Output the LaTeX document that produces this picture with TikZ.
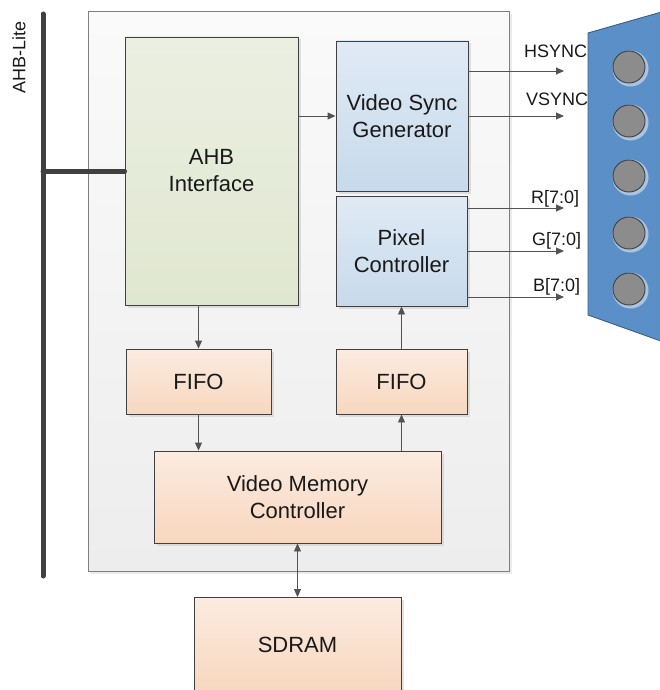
\documentclass[tikz,border=0pt]{standalone}
\usepackage{fontspec}
\setmainfont{Liberation Sans}
\usetikzlibrary{arrows.meta,shadows}

\definecolor{edge}{HTML}{404040}
\definecolor{frameEdge}{HTML}{7F7F7F}
\definecolor{outerTop}{HTML}{FAFAFA}
\definecolor{outerBot}{HTML}{EDEDED}
\definecolor{greenTop}{HTML}{EBEFE2}
\definecolor{greenBot}{HTML}{E0E7D0}
\definecolor{blueTop}{HTML}{E0EAF5}
\definecolor{blueBot}{HTML}{C7DAEB}
\definecolor{peachTop}{HTML}{FBEBE0}
\definecolor{peachBot}{HTML}{F8D7BF}
\definecolor{connFill}{HTML}{5B8FC7}
\definecolor{connEdge}{HTML}{3C5F85}
\definecolor{pinFill}{HTML}{8C8C8C}
\definecolor{pinRing}{HTML}{A9C4E3}

\tikzset{
  blk/.style={draw=edge, line width=0.9pt, align=center, inner sep=0pt,
    font=\fontsize{22}{27}\selectfont, text=black!90,
    drop shadow={shadow xshift=2.5pt, shadow yshift=-2.5pt, fill=black!30, opacity=0.35}},
  greenblk/.style={blk, top color=greenTop, bottom color=greenBot},
  blueblk/.style={blk, top color=blueTop, bottom color=blueBot},
  peachblk/.style={blk, top color=peachTop, bottom color=peachBot},
  link/.style={draw=edge!90, line width=0.9pt},
  tip/.style={-{Triangle[length=8pt,width=7pt]}},
  sig/.style={font=\fontsize{18}{18}\selectfont, inner sep=0pt, text=black!90},
  pin/.style={circle, draw=edge, line width=0.9pt, fill=pinFill, minimum size=32pt, inner sep=0pt}
}

\begin{document}
\begin{tikzpicture}[x=1pt, y=-1pt]
  \useasboundingbox (0,0) rectangle (660,690);

  % enclosing controller block
  \node[draw=frameEdge, line width=1pt, top color=outerTop, bottom color=outerBot,
        minimum width=421pt, minimum height=559pt, inner sep=0pt,
        drop shadow={shadow xshift=2.5pt, shadow yshift=-2.5pt, fill=black!20, opacity=0.4}]
        (frame) at (298.5,291.5) {};

  % AHB-Lite bus
  \coordinate (busTop) at (43,14);
  \coordinate (busBot) at (43,576);
  \coordinate (busTap) at (43,171);
  \draw[edge, line width=5pt, line cap=round] (busTop) -- (busBot);
  \node[sig, rotate=90] (busLabel) at (19,57) {AHB-Lite};

  % functional blocks
  \node[greenblk, minimum width=173pt, minimum height=268pt] (ahb) at (211.5,171) {AHB\\Interface};
  \node[blueblk, minimum width=132pt, minimum height=150pt] (vsg) at (402,116) {Video Sync\\Generator};
  \node[blueblk, minimum width=131pt, minimum height=110pt] (pix) at (401.5,251) {Pixel\\Controller};
  \node[peachblk, minimum width=145pt, minimum height=65pt] (fifol) at (198.5,381.5) {FIFO};
  \node[peachblk, minimum width=131pt, minimum height=65pt] (fifor) at (401.5,381.5) {FIFO};
  \node[peachblk, minimum width=287pt, minimum height=92pt] (vmc) at (297.5,497) {Video Memory\\Controller};
  \node[peachblk, minimum width=207pt, minimum height=95pt] (sdram) at (297.5,645) {SDRAM};

  % bus tap into the AHB interface
  \draw[edge, line width=5pt, line cap=round] (busTap) -- (busTap -| ahb.west);

  % internal data paths
  \draw[link, tip] (ahb.east |- vsg.west) -- (vsg.west);
  \draw[link, tip] (ahb.south -| fifol.north) -- (fifol.north);
  \draw[link, tip] (fifol.south) -- (fifol.south |- vmc.north);
  \draw[link, tip] (fifor.south |- vmc.north) -- (fifor.south);
  \draw[link, tip] (fifor.north) -- (pix.south);
  \draw[link, {Triangle[length=8pt,width=7pt]}-{Triangle[length=8pt,width=7pt]}] (vmc.south) -- (sdram.north);

  % video output signals
  \coordinate (hsEnd) at (564,71);
  \coordinate (vsEnd) at (564,116);
  \coordinate (rEnd) at (564,208);
  \coordinate (gEnd) at (564,251);
  \coordinate (bEnd) at (564,297);
  \draw[link, tip] (vsg.east |- hsEnd) -- (hsEnd);
  \draw[link, tip] (vsg.east |- vsEnd) -- (vsEnd);
  \draw[link, tip] (pix.east |- rEnd) -- (rEnd);
  \draw[link, tip] (pix.east |- gEnd) -- (gEnd);
  \draw[link, tip] (pix.east |- bEnd) -- (bEnd);
  \node[sig, anchor=base west] (hsLabel) at (524,58) {HSYNC};
  \node[sig, anchor=base west] (vsLabel) at (526,106) {VSYNC};
  \node[sig, anchor=base west] (rLabel) at (531,203) {R[7:0]};
  \node[sig, anchor=base west] (gLabel) at (532,245) {G[7:0]};
  \node[sig, anchor=base west] (bLabel) at (533,291) {B[7:0]};

  % VGA connector
  \draw[draw=connEdge, fill=connFill, line width=0.9pt]
    (588,33) -- (672,9) -- (672,345) -- (588,315) -- cycle;
  \foreach \py [count=\i] in {67,121,176,233,289} {
    \fill[pinRing] (630.5,\py+1.5) circle[radius=18pt];
    \node[pin] (pin\i) at (629,\py) {};
  }
\end{tikzpicture}
\end{document}
